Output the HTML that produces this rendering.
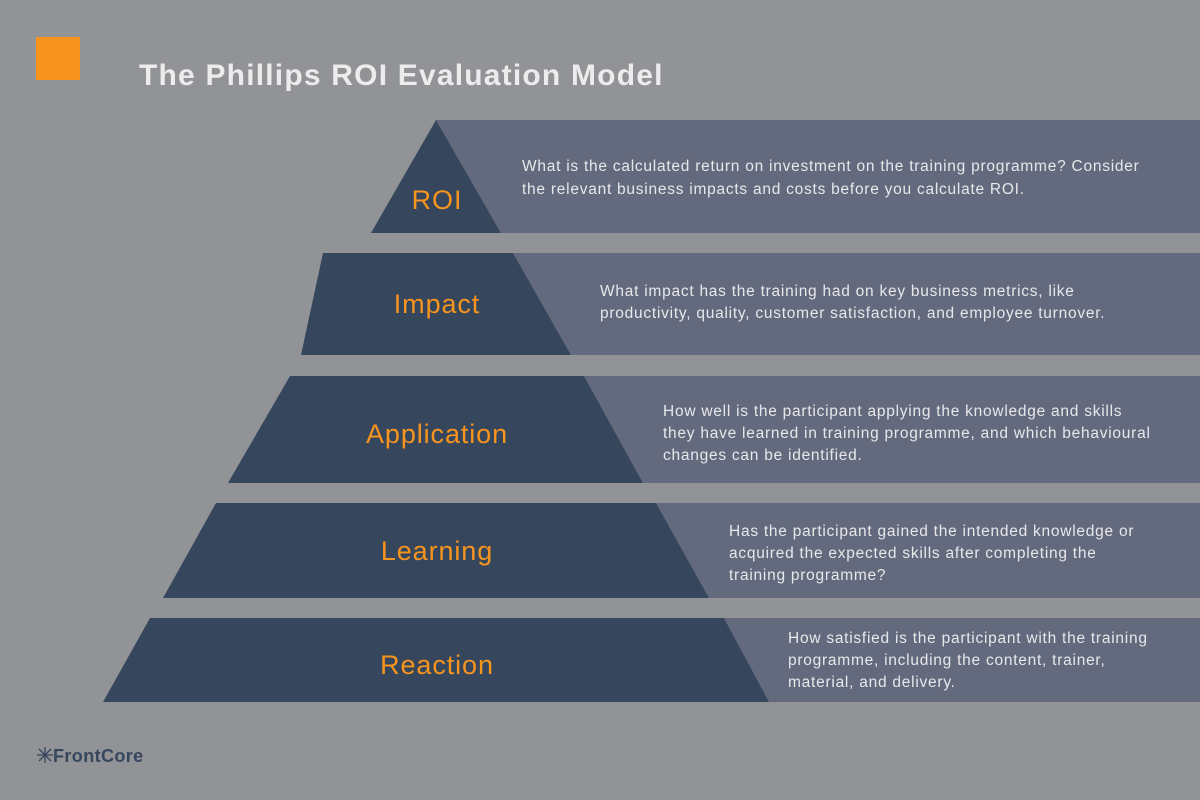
<!DOCTYPE html>
<html><head><meta charset="utf-8"><style>
html,body{margin:0;padding:0;background:#929396;}
svg{display:block}
</style></head><body>
<svg width="1200" height="800" viewBox="0 0 1200 800" xmlns="http://www.w3.org/2000/svg" font-family="Liberation Sans, sans-serif">
<rect width="1200" height="800" fill="#929396"/>
<rect x="36" y="37" width="44" height="43" fill="#f7941d"/>
<text x="139" y="85" font-size="30" font-weight="bold" fill="#ececec" letter-spacing="1.2">The Phillips ROI Evaluation Model</text>
<g fill="#636a7e">
<polygon points="436,120 1200,120 1200,233 501,233"/>
<polygon points="513,253 1200,253 1200,355 571,355"/>
<polygon points="584,376 1200,376 1200,483 643,483"/>
<polygon points="656,503 1200,503 1200,598 709,598"/>
<polygon points="724,618 1200,618 1200,702 769,702"/>
</g>
<g fill="#36475d">
<polygon points="436,120 501,233 371,233"/>
<polygon points="323,253 513,253 571,355 301,355"/>
<polygon points="290,376 584,376 643,483 228,483"/>
<polygon points="216,503 656,503 709,598 163,598"/>
<polygon points="150,618 724,618 769,702 103,702"/>
</g>
<g fill="#f7941d" font-size="27" text-anchor="middle" letter-spacing="0.9">
<text x="437" y="209">ROI</text>
<text x="437" y="313">Impact</text>
<text x="437" y="443">Application</text>
<text x="437" y="560">Learning</text>
<text x="437" y="674">Reaction</text>
</g>
<g fill="#e8e8ea" font-size="15.5" letter-spacing="0.75">
<text x="522" y="171">What is the calculated return on investment on the training programme? Consider</text>
<text x="522" y="194">the relevant business impacts and costs before you calculate ROI.</text>
<text x="600" y="296">What impact has the training had on key business metrics, like</text>
<text x="600" y="318">productivity, quality, customer satisfaction, and employee turnover.</text>
<text x="663" y="416">How well is the participant applying the knowledge and skills</text>
<text x="663" y="438">they have learned in training programme, and which behavioural</text>
<text x="663" y="460">changes can be identified.</text>
<text x="729" y="536">Has the participant gained the intended knowledge or</text>
<text x="729" y="558">acquired the expected skills after completing the</text>
<text x="729" y="580">training programme?</text>
<text x="788" y="643">How satisfied is the participant with the training</text>
<text x="788" y="665">programme, including the content, trainer,</text>
<text x="788" y="687">material, and delivery.</text>
</g>
<g stroke="#36475d" stroke-width="1.3">
<line x1="37" y1="755" x2="53" y2="755"/><line x1="45" y1="747" x2="45" y2="763"/>
<line x1="39" y1="749" x2="51" y2="761"/><line x1="51" y1="749" x2="39" y2="761"/>
</g>
<text x="53" y="762" font-size="18" font-weight="bold" fill="#36475d" letter-spacing="0.4">FrontCore</text>
</svg>
</body></html>
